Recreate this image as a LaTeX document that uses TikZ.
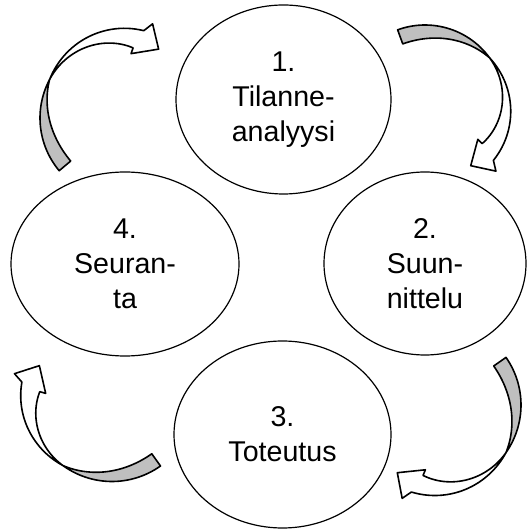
\documentclass[tikz,border=0pt]{standalone}
\usepackage{fontspec}
\setmainfont{Liberation Sans}
\usetikzlibrary{shapes.geometric}

% curved block arrow: #1 centre, #2 radius, #3 tail angle, #4 crossing angle, #5 head angle
\newcommand{\turnarrow}[5]{%
  \pgfmathsetmacro\hin{#5+3}%
  \pgfmathsetmacro\hout{#5-2}%
  \begin{scope}[shift={(#1)}]
    \filldraw[backband] plot[domain=#3:#4] (\x:{#2})
      -- plot[domain=#4:#3] (\x:{#2-15*sin(90*(\x-(#4))/((#3)-(#4)))}) -- cycle;
    \filldraw[frontband] plot[domain=#4:\hin] (\x:{#2-11*((\x-(#4))/(\hin-(#4)))^2})
      -- (#5+4:#2-17) -- (#5-16:#2-4) -- (#5-6:#2+17)
      -- plot[domain=\hout:#4] (\x:{#2+8*sin(90*(\x-(#4))/(\hout-(#4)))}) -- cycle;
  \end{scope}}

\begin{document}
\begin{tikzpicture}[x=0.5pt, y=0.5pt,
            font=\fontsize{14.3}{17.5}\selectfont,
            stage/.style={draw, ellipse, line width=0.6pt, inner sep=0pt, align=center},
            backband/.style={fill=gray!50, draw=black, line width=0.8pt, line join=round, smooth, samples=30},
            frontband/.style={fill=white, draw=black, line width=0.8pt, line join=round, smooth, samples=30}]

            \useasboundingbox (0,0) rectangle (528,530);

            % the four stages
            \node[stage, minimum width=107.5pt, minimum height=94.5pt] (analyysi) at (283.5,430.5) {1.\\Tilanne-\\analyysi};
            \node[stage, minimum width=101pt, minimum height=91.5pt] (suunnittelu) at (425,266.5) {2.\\Suun-\\nittelu};
            \node[stage, minimum width=108.5pt, minimum height=93.5pt] (toteutus) at (282.5,95.5) {3.\\Toteutus};
            \node[stage, minimum width=114pt, minimum height=92pt] (seuranta) at (125,266) {4.\\Seuran-\\ta};

            % centres of the turning arrows
            \coordinate (c12) at (425,425);
            \coordinate (c23) at (438,125);
            \coordinate (c34) at (112,132);
            \coordinate (c41) at (122,412);

            % arrows between the stages
            \turnarrow{c12}{80}{110}{36}{-37}
            \turnarrow{c23}{83}{35}{-35}{-105}
            \turnarrow{c34}{83.5}{-54.5}{-126}{-188}
            \turnarrow{c41}{82}{220}{152}{78}
\end{tikzpicture}
\end{document}
